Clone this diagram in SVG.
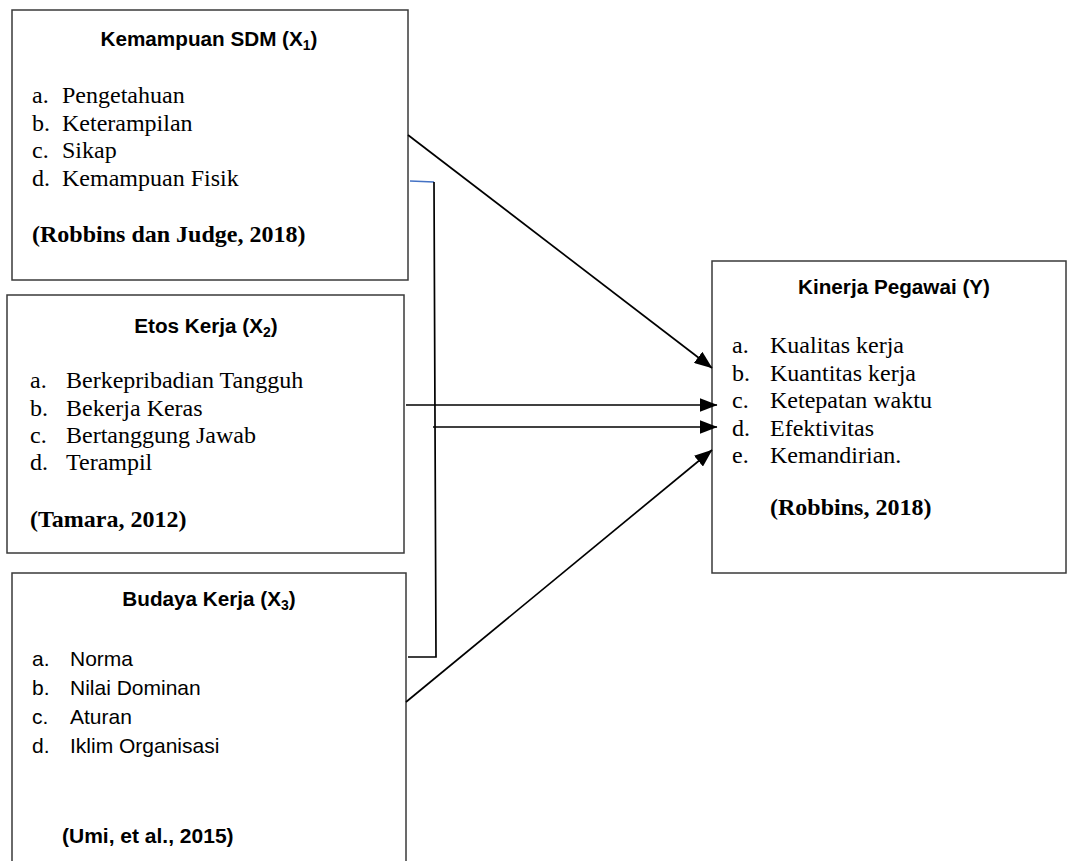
<svg xmlns="http://www.w3.org/2000/svg" width="1067" height="861" viewBox="0 0 1067 861">
<style>
.box{fill:#fff;stroke:#3a3a3a;stroke-width:1.5}
.ttl{font-family:"Liberation Sans",Arial,sans-serif;font-weight:bold;font-size:20.7px;fill:#000;text-anchor:middle}
.tm{font-family:"Liberation Serif","Times New Roman",serif;font-size:24px;fill:#000}
.tmb{font-family:"Liberation Serif","Times New Roman",serif;font-size:24px;font-weight:bold;fill:#000}
.sn{font-family:"Liberation Sans",Arial,sans-serif;font-size:21px;fill:#000}
.snb{font-family:"Liberation Sans",Arial,sans-serif;font-size:21px;font-weight:bold;fill:#000}
.ln{fill:none;stroke:#000;stroke-width:1.7}
.sub{font-size:14px}
</style>
<defs>
<marker id="ah" markerWidth="18" markerHeight="14" refX="17.5" refY="7" orient="auto" markerUnits="userSpaceOnUse">
<path d="M0,0 L18,7 L0,14 Z" fill="#000"/>
</marker>
</defs>
<rect width="1067" height="861" fill="#fff"/>
<g id="x1">
<rect class="box" x="12" y="10" width="396" height="270"/>
<text class="ttl" x="209" y="46">Kemampuan SDM (X<tspan class="sub" dy="4">1</tspan><tspan dy="-4">)</tspan></text>
<text class="tm" x="32" y="103">a.</text><text class="tm" x="62" y="103">Pengetahuan</text>
<text class="tm" x="32" y="131">b.</text><text class="tm" x="62" y="131">Keterampilan</text>
<text class="tm" x="32" y="158">c.</text><text class="tm" x="62" y="158">Sikap</text>
<text class="tm" x="32" y="186">d.</text><text class="tm" x="62" y="186">Kemampuan Fisik</text>
<text class="tmb" x="32" y="242">(Robbins dan Judge, 2018)</text>
</g>
<g id="x2">
<rect class="box" x="7" y="295" width="397" height="258"/>
<text class="ttl" x="206" y="333">Etos Kerja (X<tspan class="sub" dy="4">2</tspan><tspan dy="-4">)</tspan></text>
<text class="tm" x="30" y="388">a.</text><text class="tm" x="66" y="388">Berkepribadian Tangguh</text>
<text class="tm" x="30" y="416">b.</text><text class="tm" x="66" y="416">Bekerja Keras</text>
<text class="tm" x="30" y="443">c.</text><text class="tm" x="66" y="443">Bertanggung Jawab</text>
<text class="tm" x="30" y="470">d.</text><text class="tm" x="66" y="470">Terampil</text>
<text class="tmb" x="30" y="527">(Tamara, 2012)</text>
</g>
<g id="x3">
<rect class="box" x="12" y="573" width="394" height="310"/>
<text class="ttl" x="209" y="606">Budaya Kerja (X<tspan class="sub" dy="4">3</tspan><tspan dy="-4">)</tspan></text>
<text class="sn" x="32" y="666">a.</text><text class="sn" x="70" y="666">Norma</text>
<text class="sn" x="32" y="695">b.</text><text class="sn" x="70" y="695">Nilai Dominan</text>
<text class="sn" x="32" y="724">c.</text><text class="sn" x="70" y="724">Aturan</text>
<text class="sn" x="32" y="753">d.</text><text class="sn" x="70" y="753">Iklim Organisasi</text>
<text class="snb" x="62" y="843">(Umi, et al., 2015)</text>
</g>
<g id="y">
<rect class="box" x="712" y="261" width="354" height="312"/>
<text class="ttl" x="894" y="294">Kinerja Pegawai (Y)</text>
<text class="tm" x="732" y="353">a.</text><text class="tm" x="770" y="353">Kualitas kerja</text>
<text class="tm" x="732" y="381">b.</text><text class="tm" x="770" y="381">Kuantitas kerja</text>
<text class="tm" x="732" y="408">c.</text><text class="tm" x="770" y="408">Ketepatan waktu</text>
<text class="tm" x="732" y="436">d.</text><text class="tm" x="770" y="436">Efektivitas</text>
<text class="tm" x="732" y="463">e.</text><text class="tm" x="770" y="463">Kemandirian.</text>
<text class="tmb" x="770" y="515">(Robbins, 2018)</text>
</g>
<g id="connectors">
<line class="ln" x1="408" y1="135" x2="712" y2="368" marker-end="url(#ah)"/>
<line class="ln" x1="406" y1="405" x2="717" y2="405" marker-end="url(#ah)"/>
<line class="ln" x1="433" y1="427" x2="717" y2="427" marker-end="url(#ah)"/>
<line class="ln" x1="406" y1="702" x2="712" y2="450" marker-end="url(#ah)"/>
<line x1="410" y1="181" x2="434" y2="182" stroke="#4472c4" stroke-width="1.6"/>
<polyline class="ln" points="434,182 436,657 408,657"/>
</g>
</svg>
